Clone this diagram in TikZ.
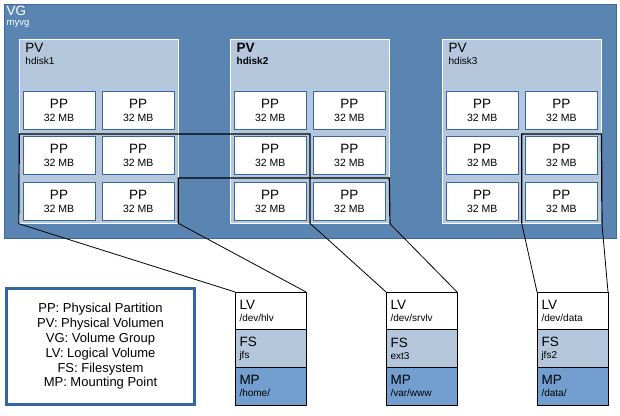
\documentclass[tikz,border=0pt]{standalone}
\usepackage{fontspec}
\setmainfont{Liberation Sans}
\usepackage{tikz}
\usetikzlibrary{positioning}
\definecolor{vgblue}{HTML}{5A85B3}
\definecolor{vgline}{HTML}{3D69A5}
\definecolor{pvblue}{HTML}{B4C7DC}
\definecolor{ppline}{HTML}{3465A4}
\definecolor{mpblue}{HTML}{729FCF}
\tikzstyle{pv}=[rectangle, draw=white, fill=pvblue, line width=0.9pt,
                minimum width=159pt, minimum height=184pt, inner sep=0pt]
\tikzstyle{pp}=[rectangle, draw=ppline, fill=white, line width=0.9pt,
                minimum width=72pt, minimum height=38pt, inner sep=0pt,
                align=center, font=\fontsize{10.5}{13}\selectfont]
\tikzstyle{cell}=[rectangle, draw=black, line width=0.8pt, outer sep=0pt,
                  minimum width=71pt, minimum height=37.7pt,
                  inner xsep=4.5pt, inner ysep=0pt, text width=62pt,
                  align=left, font=\fontsize{10}{12}\selectfont]
\tikzstyle{title}=[anchor=base west, inner sep=0pt,
                   font=\fontsize{13.5}{14}\selectfont]
\tikzstyle{sub}=[anchor=base west, inner sep=0pt,
                 font=\fontsize{10}{11}\selectfont]
\tikzstyle{edge}=[line width=0.9pt, black]
\newcommand{\tag}[1]{{\fontsize{13.5}{14}\selectfont #1}}

\begin{document}
\begin{tikzpicture}[x=1pt, y=-1pt]
  \useasboundingbox (0,0) rectangle (620,415);

  % volume group
  \node (vg) at (310,121) [rectangle, draw=vgline, fill=vgblue, line width=1pt,
                           minimum width=612pt, minimum height=234pt] {};
  \node (vgt) at ([xshift=3pt, yshift=-12.5pt]vg.north west) [title, text=white] {VG};
  \node (vgn) at ([xshift=3pt, yshift=-22pt]vg.north west) [sub, text=white,
                  font=\fontsize{9.5}{11}\selectfont] {myvg};

  % physical volumes
  \foreach \i/\x in {1/19.3, 2/230.5, 3/442.5}
    \node (pv\i) at ({\x+79.5},131.3) [pv] {};
  \node (pv1t) at ([xshift=6.4pt, yshift=-13.7pt]pv1.north west) [title] {PV};
  \node (pv1n) at ([xshift=6.4pt, yshift=-25.7pt]pv1.north west) [sub] {hdisk1};
  \node (pv2t) at ([xshift=6.4pt, yshift=-13.7pt]pv2.north west) [title] {\bfseries PV};
  \node (pv2n) at ([xshift=6.4pt, yshift=-25.7pt]pv2.north west) [sub] {\bfseries hdisk2};
  \node (pv3t) at ([xshift=6.4pt, yshift=-13.7pt]pv3.north west) [title] {PV};
  \node (pv3n) at ([xshift=6.4pt, yshift=-25.7pt]pv3.north west) [sub] {hdisk3};

  % physical partitions
  \foreach \i/\x in {1/19.3, 2/230.5, 3/442.5}
    \foreach \c/\dx in {1/39.7, 2/118.9}
      \foreach \r/\y in {1/110.5, 2/155.2, 3/201.5}
        \node (pp\i\c\r) at ({\x+\dx},\y) [pp] {\tag{PP}\\32 MB};

  % logical volume outlines
  \coordinate (a2) at (19.3,134);
  \coordinate (a3) at (310,134);
  \coordinate (a4) at (310,223.3);
  \coordinate (b1) at (178.3,223.3);
  \coordinate (b2) at (178.3,178);
  \coordinate (b3) at (389.3,178);
  \coordinate (c1) at (521.7,223.3);
  \coordinate (c2) at (521.7,134);
  \coordinate (c3) at (601.5,134);
  \draw [edge, line width=1.2pt] (pv1.south west) -- (a2) -- (a3) -- (a4);
  \draw [edge, line width=1.2pt] (b1) -- (b2) -- (b3) -- (pv2.south east);
  \draw [edge, line width=1.2pt] (c1) -- (c2) -- (c3) -- (pv3.south east);

  % logical volumes
  \node (lv1) at (270.5,310.8) [cell, fill=white] {\tag{LV}\\/dev/hlv};
  \node (fs1) [cell, fill=pvblue, below=0pt of lv1] {\tag{FS}\\jfs};
  \node (mp1) [cell, fill=mpblue, below=0pt of fs1] {\tag{MP}\\/home/};
  \node (lv2) at (421.5,310.8) [cell, fill=white] {\tag{LV}\\/dev/srvlv};
  \node (fs2) [cell, fill=pvblue, below=0pt of lv2] {\tag{FS}\\ext3};
  \node (mp2) [cell, fill=mpblue, below=0pt of fs2] {\tag{MP}\\/var/www};
  \node (lv3) at (572.5,310.8) [cell, fill=white] {\tag{LV}\\/dev/data};
  \node (fs3) [cell, fill=pvblue, below=0pt of lv3] {\tag{FS}\\jfs2};
  \node (mp3) [cell, fill=mpblue, below=0pt of fs3] {\tag{MP}\\/data/};

  \foreach \u/\v in {pv1.south west/lv1.north west, b1/lv1.north east,
                     a4/lv2.north west, pv2.south east/lv2.north east,
                     c1/lv3.north west, pv3.south east/lv3.north east}
    \draw [edge, line width=0.8pt] (\u) -- (\v);

  % legend
  \node (key) at (100.5,346.5) [rectangle, draw=ppline, line width=3pt, fill=white,
                                minimum width=188pt, minimum height=116pt, align=center,
                                font=\fontsize{13}{14.8}\selectfont]
    {PP: Physical Partition\\PV: Physical Volumen\\VG: Volume Group\\
     LV: Logical Volume\\FS: Filesystem\\MP: Mounting Point};
\end{tikzpicture}
\end{document}
